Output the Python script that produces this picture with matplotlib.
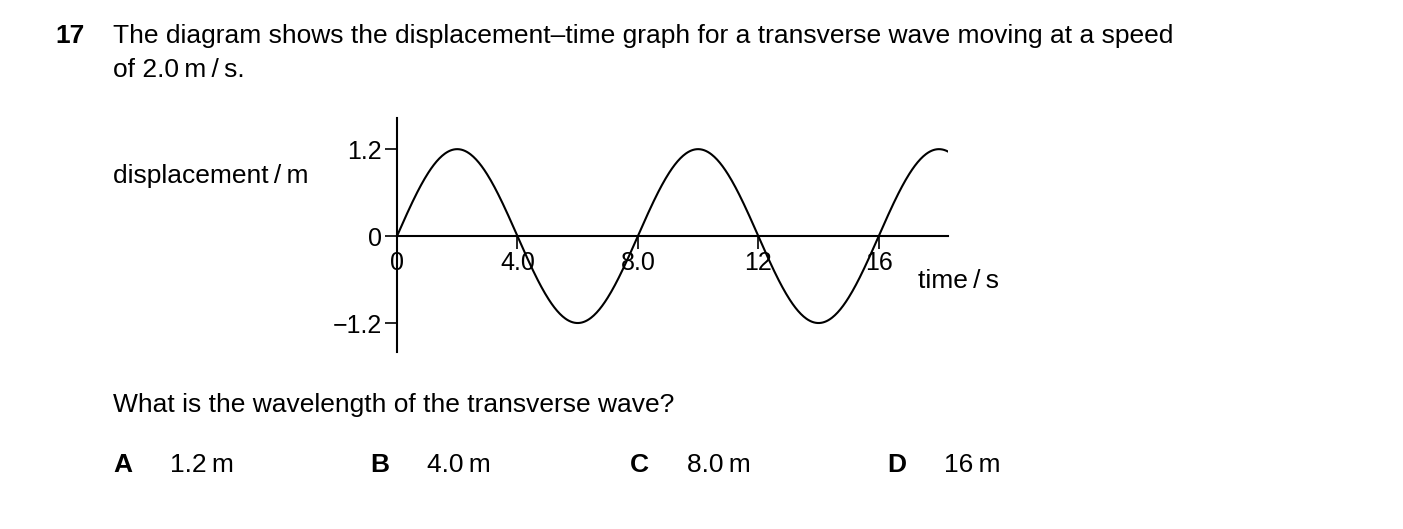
import numpy as np
import matplotlib
matplotlib.use("Agg")
import matplotlib.pyplot as plt

amplitude = 1.2
period = 8.0
t_end = 18.3
xticks = [0, 4, 8, 12, 16]
xticklabels = ["0", "4.0", "8.0", "12", "16"]
yticks = [1.2, 0, -1.2]
yticklabels = ["1.2", "0", "\u22121.2"]
options = [("A", "1.2\u2009m"), ("B", "4.0\u2009m"), ("C", "8.0\u2009m"), ("D", "16\u2009m")]
option_x = [113, 370, 630, 887]

plt.rcParams['font.family'] = ['Liberation Sans', 'DejaVu Sans']
W, H = 1403, 529
fig = plt.figure(figsize=(W/100, H/100), dpi=100)
fs = 19

def ft(x, y, s, **kw):
    fig.text(x/W, 1 - y/H, s, va='center', fontsize=fs, **kw)

ft(55, 36, "17", fontweight='bold')
ft(113, 36, "The diagram shows the displacement\u2013time graph for a transverse wave moving at a speed")
ft(113, 70, "of 2.0\u2009m\u2009/\u2009s.")
ft(113, 176, "displacement\u2009/\u2009m")
ft(918, 281, "time\u2009/\u2009s")
ft(113, 405, "What is the wavelength of the transverse wave?")
for (l, v), x in zip(options, option_x):
    ft(x, 465, l, fontweight='bold')
    ft(x + 57, 465, v)

ax = fig.add_axes([397/W, (H-352)/H, 551/W, 234/H])
ax.set_xlim(0, t_end)
ax.set_ylim(-1.6, 1.63)
t = np.linspace(0, t_end, 600)
ax.plot(t, amplitude*np.sin(2*np.pi*t/period), color='black', lw=1.5)
for s in ['top', 'right']:
    ax.spines[s].set_visible(False)
ax.spines['bottom'].set_position(('data', 0))
ax.spines['left'].set_linewidth(1.5)
ax.spines['bottom'].set_linewidth(1.5)
ax.set_xticks(xticks)
ax.set_xticklabels(xticklabels, fontsize=18)
ax.set_yticks(yticks)
ax.set_yticklabels(yticklabels, fontsize=18)
ax.tick_params(axis='x', direction='out', length=9, width=1.2, pad=2)
ax.tick_params(axis='y', direction='out', length=9, width=1.2, pad=2)
ax.patch.set_alpha(0)
fig.savefig("out.png", dpi=100)
